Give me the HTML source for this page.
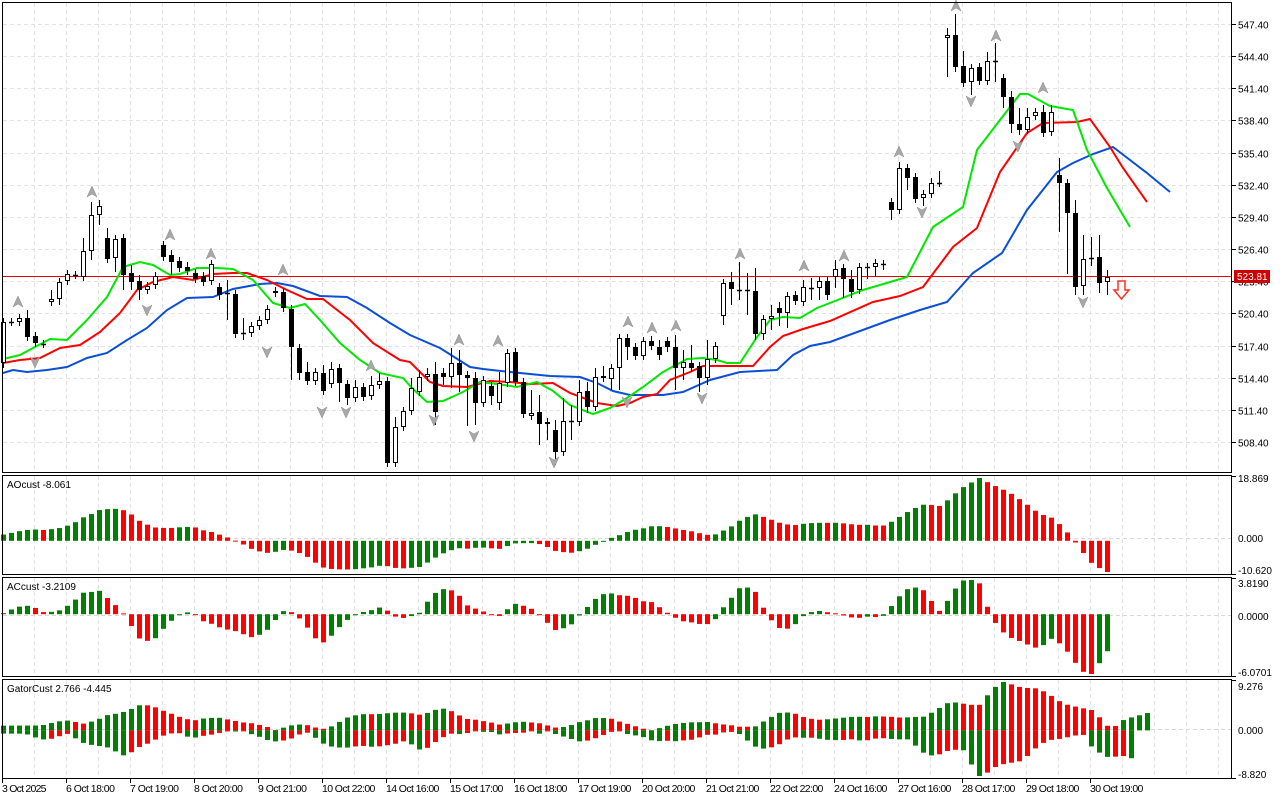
<!DOCTYPE html>
<html><head><meta charset="utf-8">
<style>
html,body{margin:0;padding:0;background:#fff;}
svg{display:block;font-family:"Liberation Sans",sans-serif;}
</style></head>
<body>
<svg id="c" width="1280" height="800" xmlns="http://www.w3.org/2000/svg"></svg>
<script>
const S=document.getElementById('c');
let h='';
const X=i=>3+8*i;
const C=[
['W',322,363],['D',322],['W',318,322],['B',318,337],['B',336,343],['D',344],['W',299,302],['W',282,299],['W',274,281],['D',275],
['W',251,277],['W',215,251],['W',206,215],['B',238,259],['W',239,258],['B',238,275],['B',273,282],['B',281,290],['W',286,290],['W',276,285],
['B',245,257],['B',255,262],['B',261,268],['B',267,271],['B',273,279],['B',276,282],['W',264,281],['B',287,295],['D',293],['B',294,334],
['D',333],['W',326,333],['W',320,326],['W',309,320],['B',291,293],['B',292,308],['B',309,347],['B',348,373],['B',372,381],['W',372,381],
['B',373,391],['W',369,384],['B',368,383],['B',384,398],['W',387,398],['B',387,397],['W',385,396],['W',381,385],['B',381,463],['W',427,463],
['W',411,427],['W',388,411],['W',377,392],['W',374,377],['B',374,412],['B',373,377],['W',363,377],['B',363,375],['B',375,378],['B',378,403],
['W',380,403],['B',386,396],['W',383,403],['W',353,383],['B',352,382],['B',382,414],['W',413,416],['B',412,424],['W',422,424],['B',430,452],
['W',421,452],['D',421],['W',392,422],['B',391,407],['W',377,407],['B',376,378],['W',368,379],['W',338,368],['B',338,347],['B',347,356],
['W',341,356],['B',341,346],['B',347,355],['B',341,347],['B',347,368],['W',362,368],['B',363,368],['B',366,378],['W',359,378],['W',346,359],
['W',283,316],['B',282,289],['D',290],['D',290],['B',291,334],['W',319,334],['W',316,319],['B',308,313],['W',296,313],['B',295,301],
['W',287,302],['D',288],['W',281,288],['B',281,295],['W',269,277],['B',268,279],['B',279,292],['W',267,290],['D',267],['W',263,267],
['D',264],['B',202,210],['W',168,210],['B',168,178],['B',177,199],['W',194,198],['W',183,194],['D',183],['W',35,38],['B',35,67],
['B',66,83],['W',68,82],['B',67,81],['W',61,81],['D',61],['B',78,97],['B',97,124],['B',124,130],['W',117,130],['W',112,116],
['B',112,133],['W',112,132],['B',175,183],['B',183,213],['B',213,287],['W',259,286],['D',258],['B',257,283],['W',277,282]];
const WK={0:[318,368],3:[310,340],6:[290,305],7:[282,305],10:[238,280],11:[202,260],12:[200,225],13:[228,262],14:[240,272],15:[238,290],16:[265,290],17:[275,300],
20:[245,260],21:[250,275],23:[262,275],26:[263,281],27:[283,300],28:[280,320],29:[290,337],30:[318,340],33:[307,318],35:[288,310],36:[308,380],37:[345,380],38:[362,380],39:[370,382],40:[365,392],41:[362,385],42:[365,402],43:[382,405],44:[380,400],45:[385,397],46:[376,396],47:[373,385],48:[380,467],49:[417,465],50:[410,425],
51:[378,412],52:[370,393],53:[368,380],54:[362,425],55:[368,385],56:[348,388],57:[350,392],58:[375,426],59:[372,425],60:[380,400],61:[382,405],62:[372,410],63:[350,385],64:[350,386],65:[378,418],66:[390,415],67:[395,445],68:[420,440],69:[420,465],70:[398,452],71:[405,440],72:[380,422],73:[382,413],74:[368,405],75:[366,380],
76:[366,390],77:[336,390],78:[335,360],79:[346,358],80:[338,358],81:[336,350],82:[340,360],83:[338,352],84:[335,390],85:[350,380],86:[345,370],87:[364,392],88:[340,385],89:[343,360],90:[280,325],91:[272,305],92:[262,300],93:[273,315],94:[268,340],95:[315,340],96:[305,330],97:[302,326],98:[295,328],99:[293,303],100:[280,306],101:[278,300],102:[280,300],103:[282,300],
104:[260,288],105:[268,298],106:[270,298],107:[264,292],108:[264,279],109:[259,277],110:[262,270],111:[202,220],112:[162,213],113:[166,190],114:[174,200],115:[192,206],116:[178,198],117:[171,184],118:[28,77],119:[14,72],120:[51,84],121:[65,95],122:[65,82],123:[52,82],124:[43,82],
125:[75,108],126:[91,133],127:[108,135],128:[108,130],129:[109,118],130:[105,133],131:[105,133],132:[158,232],133:[183,274],134:[200,295],135:[235,295],136:[237,266],137:[235,293],138:[270,295]};
const O=[],CL=[],H=[],L=[];
C.forEach((r,i)=>{let o,c;if(r[0]=='D'){o=c=r[1];}else if(r[0]=='W'){o=r[2];c=r[1];}else{o=r[1];c=r[2];}
let hi=Math.min(o,c)-4,lo=Math.max(o,c)+4;if(WK[i]){hi=Math.min(hi,WK[i][0]);lo=Math.max(lo,WK[i][1]);}
O.push(o);CL.push(c);H.push(hi);L.push(lo);});
const N=C.length;
const gx=[];for(let x=34;x<1232;x+=32)gx.push(x);
function vgrid(y1,y2){gx.forEach(x=>{h+=`<line x1="${x+.5}" y1="${y1}" x2="${x+.5}" y2="${y2}" stroke="#e2e2e2" stroke-dasharray="4,3"/>`;});}
vgrid(3,472);vgrid(476,574);vgrid(578,676);vgrid(680,778);
const pl=['547.40','544.40','541.40','538.40','535.40','532.40','529.40','526.40','523.40','520.40','517.40','514.40','511.40','508.40'];
pl.forEach((t,k)=>{const y=Math.round(24+32.15*k)+.5;h+=`<line x1="3" y1="${y}" x2="1231" y2="${y}" stroke="#e2e2e2" stroke-dasharray="4,3"/>`;
h+=`<line x1="1232" y1="${y}" x2="1236" y2="${y}" stroke="#000"/><text x="1238" y="${y+4}" font-size="10">${t}</text>`;});
[538.5,615.5,729.5].forEach(y=>{h+=`<line x1="3" y1="${y}" x2="1231" y2="${y}" stroke="#d8d8d8" stroke-dasharray="4,3"/>`;});
h+=`<line x1="3" y1="276.5" x2="1232" y2="276.5" stroke="#e00000"/>`;
const G=[[0,359],[20,355],[33,348],[50,339],[67,340],[87,320],[107,297],[123,267],[140,262],[153,265],[170,275],[180,274],[197,268],[217,268],[233,269],[253,280],[273,303],[290,308],[305,304],[320,320],[340,343],[360,360],[380,373],[403,378],[412,388],[427,402],[443,401],[463,392],[480,382],[497,384],[517,387],[537,382],[553,391],[570,405],[593,414],[610,408],[627,398],[643,387],[663,372],[687,359],[703,358],[717,360],[727,363],[740,363],[757,337],[770,320],[783,317],[800,318],[817,308],[830,303],[863,290],[907,277],[933,227],[963,207],[977,150],[1000,120],[1020,94],[1028,94],[1050,106],[1073,110],[1087,150],[1107,188],[1130,227]];
const Rr=[[0,363],[20,360],[40,358],[60,348],[80,345],[100,332],[120,313],[137,290],[153,282],[173,277],[193,280],[213,274],[233,273],[247,273],[267,280],[287,290],[307,299],[323,299],[350,320],[373,343],[400,360],[410,362],[430,382],[443,386],[467,387],[490,381],[510,382],[530,384],[553,383],[570,393],[597,403],[617,406],[630,403],[643,397],[657,394],[670,380],[690,372],[703,366],[723,366],[753,366],[770,347],[783,336],[803,329],[830,321],[873,302],[900,296],[923,287],[953,247],[977,228],[1000,172],[1027,133],[1043,123],[1077,122],[1090,119],[1110,147],[1123,168],[1147,202]];
const B=[[0,373],[13,370],[27,372],[47,370],[67,367],[87,358],[107,353],[127,340],[147,328],[167,310],[187,298],[213,297],[233,289],[260,284],[277,283],[293,286],[320,296],[347,297],[367,308],[390,323],[410,335],[440,348],[470,367],[483,369],[510,372],[550,376],[580,377],[597,383],[613,391],[630,395],[663,395],[683,392],[710,380],[740,372],[777,370],[793,355],[810,346],[830,342],[890,320],[920,310],[947,302],[973,273],[1002,253],[1027,210],[1057,172],[1073,163],[1093,154],[1113,147],[1147,173],[1170,192]];
const poly=(a,c)=>{h+=`<polyline fill="none" stroke="${c}" stroke-width="2" points="${a.map(p=>(p[0]<3?3:p[0])+','+p[1]).join(' ')}"/>`;};
poly(B,'#0b4fd6');poly(Rr,'#ff0000');poly(G,'#00e800');
for(let i=0;i<N;i++){const x=X(i);h+=`<line x1="${x+.5}" y1="${H[i]}" x2="${x+.5}" y2="${L[i]}" stroke="#000"/>`;
 const t=Math.min(O[i],CL[i]),b=Math.max(O[i],CL[i]);
 if(b-t<1){h+=`<line x1="${x-2}" y1="${t+.5}" x2="${x+3}" y2="${t+.5}" stroke="#000" stroke-width="1.5"/>`;}
 else if(CL[i]>O[i])h+=`<rect x="${x-2}" y="${t}" width="5" height="${b-t}" fill="#000"/>`;
 else h+=`<rect x="${x-1.5}" y="${t+.5}" width="4" height="${b-t-1}" fill="#fff" stroke="#000"/>`;}
const up=[[18,302],[92,192],[170,235],[211,254],[283,270],[371,366],[459,340],[498,341],[628,322],[652,328],[676,326],[740,254],[804,266],[844,256],[899,152],[956,6],[996,36],[1043,88]];
const dn=[[35,362],[147,310],[267,352],[322,412],[346,412],[434,420],[474,436],[554,462],[627,402],[702,398],[922,212],[971,101],[1018,146],[1083,302]];
up.forEach(p=>{const[x,y]=p;h+=`<path d="M${x} ${y-6} L${x+5} ${y+5} L${x} ${y+2} L${x-5} ${y+5} Z" fill="#a8a8a8" stroke="#888" stroke-width=".5"/>`;});
dn.forEach(p=>{const[x,y]=p;h+=`<path d="M${x} ${y+6} L${x+5} ${y-5} L${x} ${y-2} L${x-5} ${y-5} Z" fill="#a8a8a8" stroke="#888" stroke-width=".5"/>`;});
h+=`<path d="M1118 281 L1125 281 L1125 290 L1129 290 L1121.5 299 L1114 290 L1118 290 Z" fill="#fff" stroke="#ff3020" stroke-width="1.5"/>`;
h+=`<rect x="1234" y="270" width="36" height="13" fill="#d00000"/><text x="1237" y="280" font-size="10" fill="#fff">523.81</text>`;
const hist=40,med=[];
for(let k=0;k<hist;k++){const y=395-45*k/hist;med.push(-y/10.718);}
for(let i=0;i<N;i++)med.push(-((H[i]+L[i])/2)/10.718);
const sma=(a,i,n)=>{let s=0,c=0;for(let j=Math.max(0,i-n+1);j<=i;j++){s+=a[j];c++;}return s/c;};
const AO=med.map((v,i)=>sma(med,i,5)-sma(med,i,34));
const AC=AO.map((v,i)=>v-sma(AO,i,5));
function smma(a,n){const r=[];a.forEach((v,i)=>{r.push(i==0?v:(r[i-1]*(n-1)+v)/n);});return r;}
const jaw=smma(med,13),teeth=smma(med,8),lips=smma(med,5);
function panel(vals,top,bot,mx,mn){
 const z=top+(mx)/(mx-mn)*(bot-top);const sc=(bot-top)/(mx-mn);
 vals.forEach((v,i)=>{if(v==null)return;const x=X(i);const prev=i>0?vals[i-1]:v;const col=(i>0&&prev!=null&&v<prev)?'#ff0000':'#008000';
  const y=z-v*sc;h+=`<rect x="${x-2}" y="${Math.min(y,z)}" width="5" height="${Math.max(1,Math.abs(y-z))}" fill="${col}"/>`;});}
function fit(v){let mx=-1e9,mn=1e9;v.forEach(a=>{if(a!=null){mx=Math.max(mx,a);mn=Math.min(mn,a);}});return[mx,mn];}
const ao=AO.slice(hist),ac=AC.slice(hist);
let f=fit(ao);panel(ao,478,572,f[0],f[1]);
f=fit(ac);panel(ac,580,674,f[0],f[1]);
const gu=[],gd=[];
for(let i=0;i<N+5;i++){const k=i+hist;const jv=jaw[k-8],tv=teeth[k-5],lv=lips[k-3];
 gu.push(jv!=null&&tv!=null?Math.abs(jv-tv):null);gd.push(tv!=null&&lv!=null?Math.abs(tv-lv):null);}
let mx=Math.max(...gu.filter(a=>a!=null)),mn=Math.max(...gd.filter(a=>a!=null));
const gz=682+mx/(mx+mn)*94,gs=94/(mx+mn);
gu.forEach((v,i)=>{if(v==null)return;const p=i>0?gu[i-1]:v;const col=(p!=null&&v<p)?'#ff0000':'#008000';h+=`<rect x="${X(i)-2}" y="${gz-v*gs}" width="5" height="${Math.max(1,v*gs)}" fill="${col}"/>`;});
gd.forEach((v,i)=>{if(v==null)return;const p=i>0?gd[i-1]:v;const col=(p!=null&&v<p)?'#ff0000':'#008000';h+=`<rect x="${X(i)-2}" y="${gz}" width="5" height="${Math.max(1,v*gs)}" fill="${col}"/>`;});
h+=`<rect x="2.5" y="2.5" width="1229" height="470" fill="none" stroke="#000"/>`;
[[475,574],[577,676],[679,778]].forEach(r=>{h+=`<rect x="2.5" y="${r[0]+.5}" width="1229" height="${r[1]-r[0]}" fill="none" stroke="#000"/>`;});
const al=[['18.869',481],['0.000',541],['-10.620',573],['3.8190',586],['0.0000',619],['-6.0701',675],['9.276',689],['0.000',733],['-8.820',777]];
al.forEach(a=>{h+=`<text x="1238" y="${a[1]+1}" font-size="10">${a[0]}</text>`;});
[476,578,680].forEach(y=>{h+=`<line x1="1232" y1="${y+.5}" x2="1236" y2="${y+.5}" stroke="#000"/>`;});
[574,676,778].forEach(y=>{h+=`<line x1="1232" y1="${y+.5}" x2="1236" y2="${y+.5}" stroke="#000"/>`;});
h+=`<text x="7" y="488" font-size="10">AOcust -8.061</text><text x="7" y="590" font-size="10">ACcust -3.2109</text><text x="7" y="692" font-size="10">GatorCust 2.766 -4.445</text>`;
const dl=['3 Oct 2025','6 Oct 18:00','7 Oct 19:00','8 Oct 20:00','9 Oct 21:00','10 Oct 22:00','14 Oct 16:00','15 Oct 17:00','16 Oct 18:00','17 Oct 19:00','20 Oct 20:00','21 Oct 21:00','22 Oct 22:00','24 Oct 16:00','27 Oct 16:00','28 Oct 17:00','29 Oct 18:00','30 Oct 19:00'];
dl.forEach((t,k)=>{const x=2+64*k;h+=`<line x1="${x+.5}" y1="779" x2="${x+.5}" y2="783" stroke="#000"/><text x="${k==0?2:x}" y="792" font-size="10.5" textLength="${t.length*4.45}">${t}</text>`;});
S.innerHTML=h;
</script>
</body></html>
